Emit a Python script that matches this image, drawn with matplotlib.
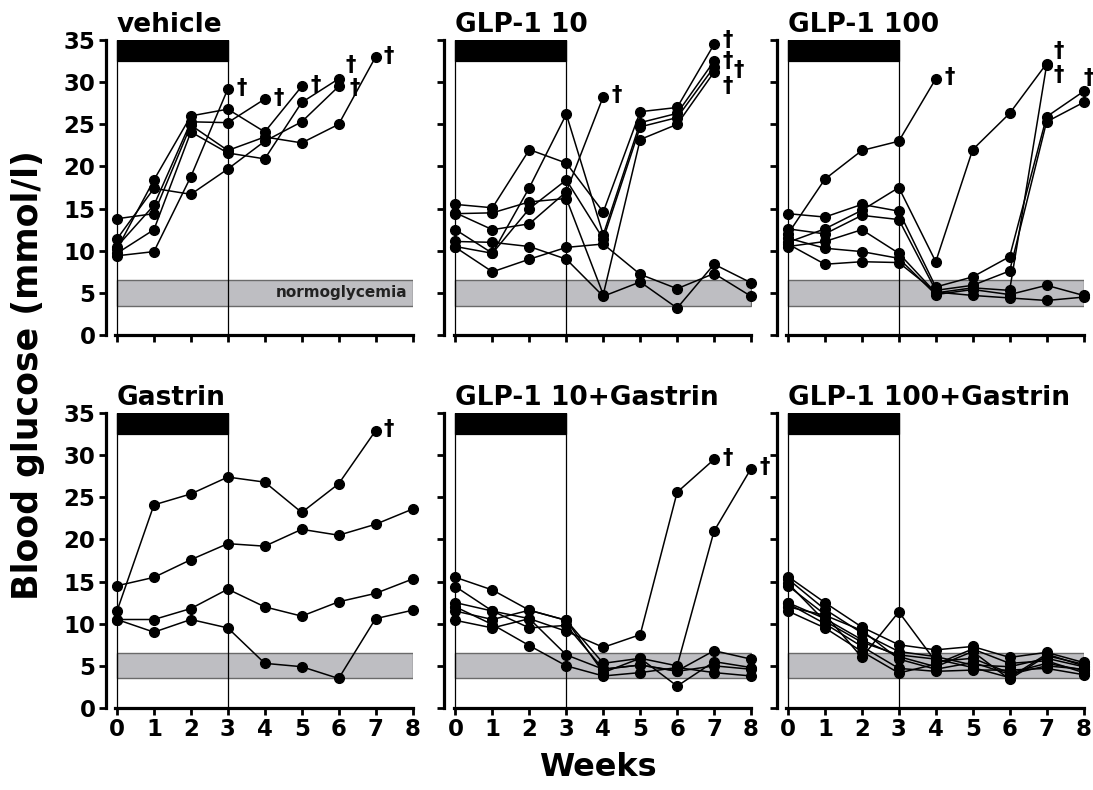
import matplotlib
matplotlib.use('Agg')
import matplotlib.pyplot as plt
from matplotlib.patches import Rectangle

plt.rcParams['font.family'] = ['DejaVu Sans']
plt.rcParams['font.weight'] = 'bold'

weeks = list(range(9))
yticks = list(range(0, 36, 5))

# blood glucose per mouse (mmol/l), one list per animal, week 0 onwards
vehicle = [
    [9.4, 9.9, 18.8, 29.2],
    [10.5, 15.4, 25.3, 25.2, 28.0],
    [10.2, 18.4, 26.0, 26.8, 24.1, 29.5],
    [9.7, 12.5, 24.1, 21.6, 20.9, 27.6, 30.4],
    [11.4, 17.4, 16.7, 19.7, 23.0, 25.3, 29.5],
    [13.8, 14.4, 24.9, 21.9, 23.5, 22.8, 25.0, 33.0],
]
vehicle_dead = [1, 1, 1, 1, 1, 1]

glp10 = [
    [15.5, 15.1, 22.0, 20.4, 14.6, 26.5, 27.0, 34.5],
    [10.5, 9.7, 17.5, 26.2, 11.9, 25.2, 26.3, 32.5],
    [14.5, 12.5, 13.2, 17.0, 28.3],
    [12.5, 9.7, 15.0, 18.4, 11.4, 24.7, 25.8, 31.8],
    [14.4, 14.5, 15.8, 16.2, 4.8, 23.2, 25.0, 31.2],
    [10.4, 7.5, 9.0, 10.4, 10.8, 7.2, 5.5, 7.3, 4.6],
    [11.1, 11.0, 10.5, 9.0, 4.6, 6.3, 3.2, 8.4, 6.2],
]
glp10_dead = [1, 1, 1, 1, 1, 0, 0]

glp100 = [
    [12.0, 18.5, 21.9, 23.0, 30.4],
    [11.0, 12.6, 14.8, 17.5, 8.7, 22.0, 26.3, 32.2],
    [14.4, 14.0, 15.5, 14.7, 5.7, 6.9, 9.3, 25.9, 28.9],
    [12.6, 12.0, 14.2, 13.7, 5.3, 5.9, 7.6, 25.3, 27.6],
    [10.5, 11.1, 12.5, 9.7, 5.0, 5.6, 5.3, 32.0],
    [11.5, 10.3, 9.9, 9.1, 4.8, 5.4, 4.8, 5.9, 4.7],
    [10.8, 8.4, 8.7, 8.6, 5.1, 4.7, 4.4, 4.1, 4.5],
]
glp100_dead = [1, 1, 1, 0, 1, 0, 0]

gastrin = [
    [11.5, 24.1, 25.4, 27.4, 26.8, 23.2, 26.6, 32.9],
    [14.5, 15.5, 17.6, 19.5, 19.2, 21.2, 20.5, 21.8, 23.6],
    [10.5, 10.5, 11.8, 14.1, 12.0, 10.9, 12.6, 13.6, 15.3],
    [10.5, 9.0, 10.5, 9.5, 5.3, 4.9, 3.5, 10.6, 11.6],
]
gastrin_dead = [1, 0, 0, 0]

glp10_gastrin = [
    [12.5, 11.5, 10.6, 9.1, 7.2, 8.7, 25.6, 29.5],
    [15.5, 14.0, 11.6, 10.4, 5.3, 5.9, 5.0, 21.0, 28.4],
    [14.4, 11.5, 9.5, 9.8, 4.6, 5.1, 4.4, 6.8, 5.8],
    [11.5, 10.5, 11.6, 10.4, 4.2, 5.9, 2.6, 5.5, 4.8],
    [12.0, 9.9, 7.4, 5.0, 3.8, 4.2, 4.8, 4.2, 3.8],
    [10.4, 9.5, 10.6, 6.3, 4.6, 5.1, 4.35, 5.0, 4.6],
]
glp10_gastrin_dead = [1, 1, 0, 0, 0, 0]

glp100_gastrin = [
    [15.6, 12.5, 9.6, 7.5, 6.9, 7.3, 6.0, 6.6, 5.4],
    [15.3, 11.7, 8.9, 6.7, 6.1, 5.1, 4.9, 5.9, 4.9],
    [14.5, 11.1, 6.0, 11.4, 5.5, 5.9, 4.15, 5.3, 4.5],
    [12.5, 10.6, 8.1, 6.1, 4.9, 6.7, 3.4, 6.2, 5.2],
    [12.4, 10.0, 7.3, 4.7, 4.35, 4.5, 4.5, 4.7, 3.95],
    [11.5, 9.5, 6.7, 4.15, 5.2, 7.0, 5.3, 5.6, 4.2],
    [12.0, 11.0, 9.2, 5.8, 4.6, 5.4, 4.0, 5.0, 4.6],
    [14.8, 10.3, 7.8, 6.3, 5.8, 4.8, 3.6, 6.4, 5.0],
]
glp100_gastrin_dead = [0] * 8

panels = [
    ('vehicle', vehicle, vehicle_dead),
    ('GLP-1 10', glp10, glp10_dead),
    ('GLP-1 100', glp100, glp100_dead),
    ('Gastrin', gastrin, gastrin_dead),
    ('GLP-1 10+Gastrin', glp10_gastrin, glp10_gastrin_dead),
    ('GLP-1 100+Gastrin', glp100_gastrin, glp100_gastrin_dead),
]

# dagger offsets (points) where several animals die at the same week
dagger_nudge = {
    (0, 3): (5, 10), (0, 4): (8, -1),
    (1, 0): (6, 3), (1, 1): (6, 0), (1, 3): (14, -2), (1, 4): (6, -10),
    (2, 1): (5, 9), (2, 4): (5, -7), (2, 2): (0, 10),
}

fig = plt.figure(figsize=(10.93, 7.9), dpi=100)
lefts = [0.0969, 0.4066, 0.7108]
bottoms = [0.5759, 0.1038]
w, h = 0.2812, 0.3734

for i, (title, data, dead) in enumerate(panels):
    r, c = divmod(i, 3)
    ax = fig.add_axes([lefts[c], bottoms[r], w, h])
    ax.set_xlim(-0.3, 8.02)
    ax.set_ylim(0, 35)
    for s in ['top', 'right']:
        ax.spines[s].set_visible(False)
    for s in ['left', 'bottom']:
        ax.spines[s].set_linewidth(2.3)
    ax.spines['bottom'].set_bounds(-0.05, 8)
    ax.set_xticks(weeks)
    ax.set_yticks(yticks)
    ax.tick_params(direction='out', length=5, width=2, labelsize=16.5, pad=2.5)
    if c > 0:
        ax.set_yticklabels([])
    if r == 0:
        ax.set_xticklabels([])

    # normoglycemia band and treatment period
    ax.add_patch(Rectangle((0, 3.5), 8, 3, fc='#bebec2', ec='#6a6a6a', lw=1, zorder=1))
    ax.add_patch(Rectangle((0, 0), 3, 35, fill=False, ec='black', lw=0.9, zorder=1.5))
    ax.add_patch(Rectangle((0, 32.5), 3, 2.5, fc='black', ec='black', lw=0.9, zorder=2))

    for j, (mouse, d) in enumerate(zip(data, dead)):
        ax.plot(weeks[:len(mouse)], mouse, '-o', color='black', lw=1.1, ms=7,
                clip_on=False, zorder=3)
        if d:
            ax.annotate('†', (len(mouse) - 1, mouse[-1]),
                        xytext=dagger_nudge.get((i, j), (6, 1)),
                        textcoords='offset points', ha='left', va='center',
                        fontsize=15, fontweight='bold', annotation_clip=False)

    ax.annotate(title, (0, 35), xytext=(0, 6), textcoords='offset points',
                ha='left', va='baseline', fontsize=19, fontweight='bold',
                annotation_clip=False)
    if i == 0:
        ax.text(7.85, 5, 'normoglycemia', ha='right', va='center',
                fontsize=11, fontweight='bold', color='#222222', zorder=2)

fig.text(0.026, 0.525, 'Blood glucose (mmol/l)', rotation=90, ha='center',
         va='center', fontsize=25, fontweight='bold')
fig.text(0.547, 0.028, 'Weeks', ha='center', va='center', fontsize=23,
         fontweight='bold')

fig.savefig('out.png', dpi=100)
